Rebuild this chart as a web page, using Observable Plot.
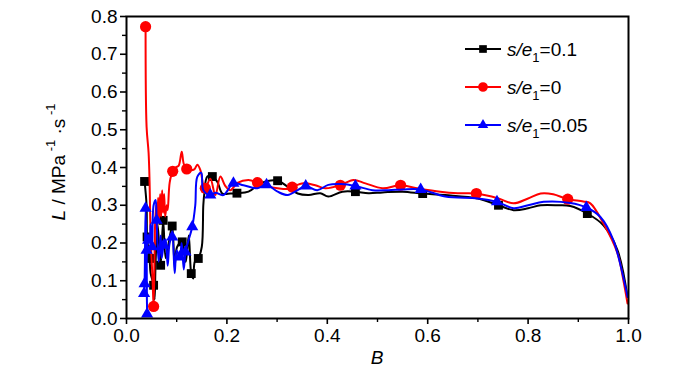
<!DOCTYPE html>
<html><head><meta charset="utf-8">
<script src="https://cdn.jsdelivr.net/npm/d3@7"></script>
<script src="https://cdn.jsdelivr.net/npm/@observablehq/plot@0.6"></script>
<style>body{margin:0;background:#fff;} svg{display:block;}</style>
</head><body><div id="chart"></div>
<script>
// ---- data ----
const seriesLabels = ["=0.1", "=0", "=0.05"];
const seriesColors = ["#000000", "#ff0000", "#0000ff"];
const seriesSymbols = ["square", "circle", "triangle"];

const xMajorTicks = [0, 0.2, 0.4, 0.6, 0.8, 1.0];
const xMinorTicks = [0.1, 0.3, 0.5, 0.7, 0.9];
const yMajorTicks = [0, 0.1, 0.2, 0.3, 0.4, 0.5, 0.6, 0.7, 0.8];
const yMinorTicks = [0.05, 0.15, 0.25, 0.35, 0.45, 0.55, 0.65, 0.75];

// s/e1 = 0.1 (black)
const blackB = [0.036,0.040,0.041,0.044,0.046,0.048,0.054,0.056,0.058,0.062,0.068,0.073,0.078,0.084,0.091,0.096,0.101,0.111,0.118,0.124,0.129,0.133,0.136,0.143,0.150,0.153,0.155,0.161,0.171,0.181,0.191,0.207,0.220,0.243,0.267,0.301,0.321,0.341,0.363,0.386,0.402,0.430,0.456,0.482,0.510,0.550,0.590,0.635,0.700,0.741,0.771,0.800,0.825,0.860,0.884,0.918,0.950,0.978,0.998];
const blackL = [0.363,0.30,0.216,0.18,0.159,0.12,0.088,0.05,0.15,0.25,0.141,0.26,0.16,0.20,0.245,0.14,0.19,0.203,0.15,0.22,0.119,0.106,0.15,0.159,0.19,0.30,0.331,0.376,0.376,0.362,0.331,0.331,0.332,0.336,0.358,0.365,0.349,0.331,0.327,0.332,0.323,0.336,0.336,0.332,0.334,0.336,0.331,0.327,0.318,0.300,0.287,0.292,0.300,0.300,0.298,0.278,0.247,0.181,0.057];
const blackMarkB = [0.036,0.041,0.046,0.054,0.068,0.073,0.091,0.111,0.129,0.143,0.171,0.220,0.301,0.456,0.590,0.741,0.918];
const blackMarkL = [0.363,0.216,0.159,0.088,0.141,0.26,0.245,0.203,0.119,0.159,0.376,0.332,0.365,0.336,0.331,0.300,0.278];

// s/e1 = 0 (red)
const redB = [0.038,0.040,0.044,0.046,0.048,0.052,0.054,0.057,0.059,0.061,0.063,0.065,0.067,0.069,0.071,0.073,0.075,0.077,0.080,0.082,0.086,0.092,0.098,0.104,0.110,0.114,0.120,0.127,0.135,0.141,0.147,0.153,0.157,0.167,0.177,0.187,0.197,0.207,0.221,0.243,0.261,0.281,0.301,0.321,0.330,0.353,0.376,0.396,0.426,0.452,0.476,0.510,0.546,0.576,0.625,0.660,0.697,0.741,0.771,0.800,0.825,0.850,0.879,0.910,0.924,0.950,0.978,0.990,0.998];
const redL = [0.773,0.508,0.439,0.36,0.22,0.10,0.032,0.25,0.30,0.24,0.32,0.26,0.33,0.27,0.34,0.28,0.33,0.27,0.30,0.287,0.36,0.39,0.40,0.405,0.442,0.41,0.396,0.393,0.395,0.407,0.394,0.354,0.345,0.370,0.327,0.376,0.351,0.340,0.359,0.367,0.360,0.350,0.345,0.343,0.348,0.358,0.353,0.345,0.353,0.367,0.358,0.345,0.353,0.346,0.336,0.332,0.331,0.318,0.305,0.318,0.331,0.329,0.316,0.310,0.305,0.252,0.173,0.10,0.04];
const redMarkB = [0.038,0.054,0.092,0.120,0.157,0.261,0.330,0.426,0.546,0.697,0.879];
const redMarkL = [0.773,0.032,0.39,0.396,0.345,0.360,0.348,0.353,0.353,0.331,0.316];

// s/e1 = 0.05 (blue)
const blueB = [0.035,0.036,0.038,0.040,0.041,0.043,0.046,0.048,0.050,0.051,0.054,0.058,0.060,0.064,0.068,0.070,0.074,0.078,0.082,0.086,0.091,0.096,0.100,0.106,0.110,0.114,0.1175,0.122,0.131,0.137,0.141,0.149,0.153,0.167,0.177,0.193,0.213,0.233,0.261,0.279,0.301,0.321,0.341,0.357,0.380,0.402,0.428,0.456,0.490,0.522,0.550,0.586,0.635,0.700,0.738,0.771,0.800,0.831,0.884,0.916,0.944,0.970,0.998];
const blueL = [0.066,0.092,0.292,0.181,0.012,0.207,0.21,0.25,0.20,0.19,0.30,0.314,0.26,0.15,0.22,0.16,0.194,0.21,0.14,0.20,0.216,0.12,0.18,0.163,0.20,0.13,0.176,0.20,0.243,0.30,0.375,0.386,0.34,0.327,0.333,0.327,0.358,0.353,0.345,0.354,0.336,0.327,0.340,0.351,0.340,0.354,0.356,0.351,0.340,0.340,0.342,0.342,0.323,0.318,0.309,0.292,0.300,0.309,0.306,0.294,0.269,0.207,0.057];
const blueMarkB = [0.035,0.036,0.038,0.040,0.041,0.043,0.051,0.060,0.074,0.091,0.106,0.1175,0.131,0.167,0.213,0.279,0.357,0.456,0.586,0.738,0.916];
const blueMarkL = [0.066,0.092,0.292,0.181,0.012,0.207,0.19,0.26,0.194,0.216,0.163,0.176,0.243,0.327,0.358,0.354,0.351,0.351,0.342,0.309,0.294];

// ---- build tables ----
const zip = (bs, ls) => bs.map((b, i) => ({B: b, L: ls[i]}));
const lines = [zip(blackB, blackL), zip(redB, redL), zip(blueB, blueL)];
const marks = [zip(blackMarkB, blackMarkL), zip(redMarkB, redMarkL), zip(blueMarkB, blueMarkL)];
const markR = [5, 5.6, 4.5];

const W = 700, H = 375;
const mL = 126, mR = 72, mT = 16, mB = 57;
const font = "'Liberation Sans', Arial, Helvetica, sans-serif";

const seriesMarks = [];
for (let i = 0; i < 3; i++) {
  seriesMarks.push(Plot.line(lines[i], {x: "B", y: "L", stroke: seriesColors[i], strokeWidth: 2, curve: "catmull-rom"}));
  seriesMarks.push(Plot.dot(marks[i], {x: "B", y: "L", symbol: () => seriesSymbols[i], fill: seriesColors[i], stroke: "none", r: markR[i]}));
}

const svg = Plot.plot({
  width: W, height: H,
  marginLeft: mL, marginRight: mR, marginTop: mT, marginBottom: mB,
  style: {fontFamily: font, background: "#fff", overflow: "visible"},
  x: {domain: [0, 1]},
  y: {domain: [0, 0.8]},
  symbol: {type: "identity"},
  marks: [
    ...seriesMarks,
    Plot.frame({stroke: "black", strokeWidth: 2}),
    Plot.axisX({ticks: xMajorTicks, tickSize: 6, tickPadding: 4, strokeWidth: 1.6, tickFormat: d => d.toFixed(1), fontSize: 19, fill: "black", label: null}),
    Plot.axisX({ticks: xMinorTicks, tickSize: 4, strokeWidth: 1.4, tickFormat: () => "", label: null}),
    Plot.axisY({ticks: yMajorTicks, tickSize: 6, tickPadding: 3, strokeWidth: 1.6, tickFormat: d => d.toFixed(1), fontSize: 19, fill: "black", label: null}),
    Plot.axisY({ticks: yMinorTicks, tickSize: 4, strokeWidth: 1.4, tickFormat: () => "", label: null})
  ]
});

const s = d3.select(svg);
// axis titles
const xl = s.append("text").attr("x", 377).attr("y", 364).attr("text-anchor", "middle")
  .attr("font-size", 19).attr("font-family", font).attr("fill", "black");
xl.append("tspan").attr("font-style", "italic").text("B");

const yl = s.append("text").attr("transform", "translate(65,162) rotate(-90)").attr("text-anchor", "middle")
  .attr("font-size", 19).attr("font-family", font).attr("fill", "black");
yl.append("tspan").attr("font-style", "italic").text("L");
yl.append("tspan").text(" / MPa");
yl.append("tspan").attr("font-size", 13).attr("dy", -10).text(" -1");
yl.append("tspan").attr("dy", 10).text(" ·s");
yl.append("tspan").attr("font-size", 13).attr("dy", -10).text(" -1");

// legend
const legX0 = 465, legX1 = 501, legTextX = 507, legY0 = 49, legStep = 38;
for (let i = 0; i < 3; i++) {
  const y = legY0 + i * legStep;
  const g = s.append("g");
  g.append("line").attr("x1", legX0).attr("x2", legX1).attr("y1", y).attr("y2", y)
    .attr("stroke", seriesColors[i]).attr("stroke-width", 2);
  const sym = {square: d3.symbolSquare, circle: d3.symbolCircle, triangle: d3.symbolTriangle}[seriesSymbols[i]];
  g.append("path").attr("d", d3.symbol(sym, Math.PI * markR[i] * markR[i] * 0.75)())
    .attr("transform", `translate(${(legX0 + legX1) / 2},${y})`).attr("fill", seriesColors[i]);
  const t = g.append("text").attr("x", legTextX).attr("y", y + 7).attr("font-size", 19)
    .attr("text-anchor", "start").attr("font-family", font).attr("fill", "black");
  t.append("tspan").attr("font-style", "italic").text("s/e");
  t.append("tspan").attr("font-size", 13).attr("dy", 6).text("1");
  t.append("tspan").attr("dy", -6).text(seriesLabels[i]);
}

document.getElementById("chart").appendChild(svg);
</script>
</body></html>
